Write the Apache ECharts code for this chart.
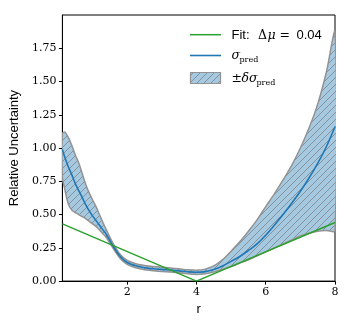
<!DOCTYPE html>
<html>
<head>
<meta charset="utf-8">
<script src="https://cdn.jsdelivr.net/npm/echarts@6/dist/echarts.min.js"></script>
<style>
  html, body { margin: 0; padding: 0; background: #fff; }
  #chart { width: 353px; height: 321px; }
</style>
</head>
<body>
<div id="chart"></div>
<script>
// values
var rX = [0.13, 0.2, 0.3, 0.4, 0.5, 0.6, 0.7, 0.8, 0.9, 1.0, 1.1, 1.2, 1.3, 1.4, 1.6, 1.8, 2.0, 2.25, 2.5, 2.75,
  3.0, 3.25, 3.5, 3.75, 4.0, 4.25, 4.5, 4.75, 5.0, 5.25, 5.5, 5.75, 6.0, 6.25, 6.5, 6.75, 7.0, 7.25, 7.5, 7.75, 8.0];
var sigmaPred = [0.99, 0.93, 0.86, 0.80, 0.735, 0.68, 0.63, 0.575, 0.53, 0.49, 0.455, 0.42, 0.385, 0.35, 0.26, 0.185, 0.14, 0.115, 0.10, 0.093,
  0.088, 0.083, 0.077, 0.07, 0.066, 0.071, 0.087, 0.113, 0.148, 0.185, 0.23, 0.28, 0.345, 0.42, 0.50, 0.585, 0.675, 0.775, 0.885, 1.01, 1.16];
var bandUpper = [1.11, 1.12, 1.08, 1.02, 0.95, 0.89, 0.81, 0.73, 0.665, 0.61, 0.56, 0.50, 0.44, 0.385, 0.28, 0.20, 0.155, 0.13, 0.118, 0.11,
  0.105, 0.099, 0.092, 0.085, 0.082, 0.09, 0.115, 0.16, 0.225, 0.295, 0.375, 0.46, 0.56, 0.655, 0.76, 0.87, 1.0, 1.15, 1.33, 1.57, 1.87];
var bandLower = [0.78, 0.69, 0.58, 0.535, 0.515, 0.50, 0.485, 0.47, 0.45, 0.43, 0.41, 0.385, 0.355, 0.325, 0.245, 0.17, 0.125, 0.10, 0.085, 0.078,
  0.072, 0.068, 0.062, 0.055, 0.05, 0.055, 0.068, 0.088, 0.11, 0.135, 0.16, 0.19, 0.22, 0.25, 0.28, 0.31, 0.34, 0.36, 0.375, 0.38, 0.38];
var fitX = [0.13, 4, 8];
var fitY = [0.43, 0.0, 0.44];
var xTicks = [2, 4, 6, 8];
var yTicks = [0, 0.25, 0.5, 0.75, 1.0, 1.25, 1.5, 1.75];

// hatch tile, "/" lines on light blue
var tile = document.createElement('canvas');
tile.width = 7;
tile.height = 7;
var tc = tile.getContext('2d');
tc.fillStyle = '#a6c9e2';
tc.fillRect(0, 0, 7, 7);
tc.strokeStyle = 'rgba(125,125,125,0.75)';
tc.lineWidth = 1;
tc.beginPath();
tc.moveTo(-1, 8); tc.lineTo(8, -1);
tc.moveTo(-1, 1); tc.lineTo(1, -1);
tc.moveTo(6, 8); tc.lineTo(8, 6);
tc.stroke();
var hatch = { image: tile, repeat: 'repeat' };

var serif = 'DejaVu Serif';
var sans = 'Liberation Sans';

function txt(x, y, s, font, size, italic) {
  return {
    type: 'text', x: x, y: y,
    style: { text: s, fontFamily: font, fontSize: size, fontStyle: italic ? 'italic' : 'normal', fill: '#000', verticalAlign: 'middle' }
  };
}

var chart = echarts.init(document.getElementById('chart'));
chart.setOption({
  animation: false,
  grid: { left: 56, top: 15, width: 279, height: 267, show: true, borderColor: '#000', borderWidth: 1 },
  xAxis: {
    type: 'value', min: 0.13, max: 8,
    name: 'r', nameLocation: 'middle', nameGap: 21,
    nameTextStyle: { fontFamily: sans, fontSize: 13, color: '#000' },
    axisLine: { lineStyle: { color: '#000', width: 1 } },
    axisTick: { length: 3.5, lineStyle: { color: '#000' }, customValues: xTicks },
    axisLabel: { customValues: xTicks, margin: 6, fontFamily: serif, fontSize: 11, color: '#000' },
    splitLine: { show: false }
  },
  yAxis: {
    type: 'value', min: 0, max: 2.0,
    name: 'Relative Uncertainty', nameLocation: 'middle', nameGap: 35,
    nameTextStyle: { fontFamily: sans, fontSize: 13, color: '#000' },
    axisLine: { lineStyle: { color: '#000', width: 1 } },
    axisTick: { length: 3.5, lineStyle: { color: '#000' }, customValues: yTicks },
    axisLabel: {
      customValues: yTicks, margin: 6, fontFamily: serif, fontSize: 11, color: '#000',
      formatter: function (v) { return v.toFixed(2); }
    },
    splitLine: { show: false }
  },
  series: [
    {
      type: 'custom', name: 'band', clip: true, z: 1,
      data: [[rX[0], bandLower[0]]],
      renderItem: function (params, api) {
        var pts = [];
        for (var i = 0; i < rX.length; i++) pts.push(api.coord([rX[i], bandUpper[i]]));
        for (var j = rX.length - 1; j >= 0; j--) pts.push(api.coord([rX[j], bandLower[j]]));
        return {
          type: 'polygon',
          shape: { points: pts, smooth: 0.3 },
          style: { fill: hatch, stroke: '#939393', lineWidth: 1.5 }
        };
      }
    },
    {
      type: 'line', name: 'sigma', z: 2, showSymbol: false, smooth: 0.3,
      data: rX.map(function (x, i) { return [x, sigmaPred[i]]; }),
      lineStyle: { color: '#1f77b4', width: 1.6 }
    },
    {
      type: 'line', name: 'fit', z: 3, showSymbol: false,
      data: fitX.map(function (x, i) { return [x, fitY[i]]; }),
      lineStyle: { color: '#2ca02c', width: 1.5 }
    }
  ],
  graphic: [
    // legend: fit line
    { type: 'line', shape: { x1: 190, y1: 34.7, x2: 221, y2: 34.7 }, style: { stroke: '#2ca02c', lineWidth: 1.5 } },
    txt(231.5, 35.3, 'Fit:', sans, 13),
    txt(258, 35.3, 'Δ', serif, 12.5),
    txt(267.5, 35.8, 'μ', serif, 12.5, true),
    txt(279.5, 35.3, '=', serif, 12.5),
    txt(296.5, 35.3, '0.04', sans, 13),
    // legend: sigma_pred line
    { type: 'line', shape: { x1: 190, y1: 55.5, x2: 221, y2: 55.5 }, style: { stroke: '#1f77b4', lineWidth: 1.6 } },
    txt(231.5, 56, 'σ', serif, 12.5, true),
    txt(239.5, 60, 'pred', serif, 8),
    // legend: band patch
    { type: 'rect', shape: { x: 190.5, y: 72.5, width: 30, height: 11 }, style: { fill: hatch, stroke: '#939393', lineWidth: 1.2 } },
    txt(231.5, 78.5, '±', serif, 12.5),
    txt(241.5, 78.5, 'δσ', serif, 12.5, true),
    txt(256.5, 82.5, 'pred', serif, 8)
  ]
});
</script>
</body>
</html>
